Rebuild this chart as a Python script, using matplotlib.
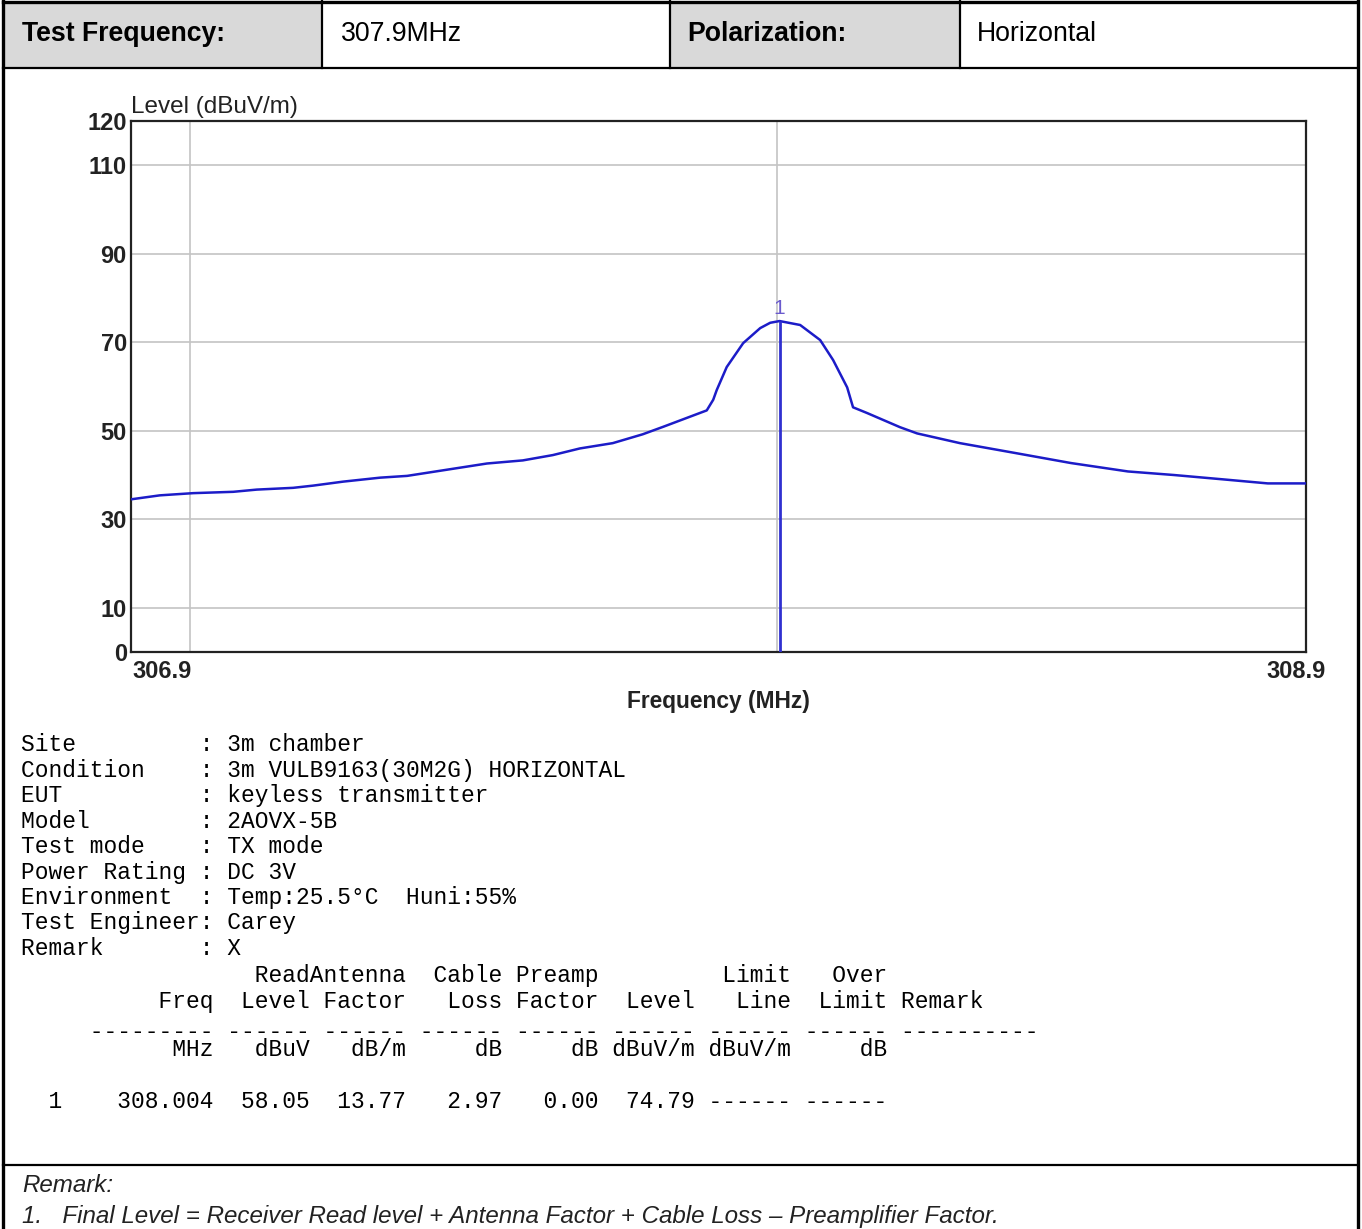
import matplotlib
matplotlib.use("Agg")
import matplotlib.pyplot as plt
from matplotlib.lines import Line2D
from matplotlib.patches import Rectangle

W, H = 1362, 1229

# trace (MHz, dBuV/m)
freq = [306.900, 306.949, 307.006, 307.074, 307.114, 307.176, 307.210, 307.261,
        307.324, 307.370, 307.438, 307.506, 307.567, 307.618, 307.664, 307.720,
        307.771, 307.806, 307.880, 307.891, 307.897, 307.914, 307.942, 307.971,
        307.988, 308.004, 308.039, 308.073, 308.095, 308.119, 308.129, 308.153,
        308.209, 308.238, 308.311, 308.408, 308.500, 308.597, 308.675, 308.760,
        308.835, 308.900]
level = [34.5, 35.4, 35.9, 36.2, 36.7, 37.1, 37.6, 38.5,
         39.4, 39.8, 41.2, 42.6, 43.3, 44.5, 46.0, 47.2,
         49.2, 50.9, 54.6, 57.0, 59.2, 64.4, 69.8, 73.2,
         74.4, 74.79, 73.9, 70.5, 66.0, 59.8, 55.3, 54.0,
         50.8, 49.4, 47.2, 44.9, 42.7, 40.8, 40.0, 39.0,
         38.1, 38.1]

marker_freq = 308.004
marker_level = 74.79

x_range = (306.9, 308.9)
x_grid = [307.0, 308.0]
y_ticks = [0, 10, 30, 50, 70, 90, 110, 120]

header_cells = ["Test Frequency:", "307.9MHz", "Polarization:", "Horizontal"]

info_labels = ["Site", "Condition", "EUT", "Model", "Test mode", "Power Rating",
               "Environment", "Test Engineer", "Remark"]
info_values = ["3m chamber", "3m VULB9163(30M2G) HORIZONTAL", "keyless transmitter",
               "2AOVX-5B", "TX mode", "DC 3V", "Temp:25.5\u00b0C  Huni:55%", "Carey", "X"]

head1 = ["", "Read", "Antenna", "Cable", "Preamp", "", "Limit", "Over"]
head2 = ["Freq", "Level", "Factor", "Loss", "Factor", "Level", "Line", "Limit"]
units = ["MHz", "dBuV", "dB/m", "dB", "dB", "dBuV/m", "dBuV/m", "dB"]
row_no = "1"
row_vals = ["308.004", "58.05", "13.77", "2.97", "0.00", "74.79", "------", "------"]

remark_lines = ["Remark:",
                "1.   Final Level = Receiver Read level + Antenna Factor + Cable Loss \u2013 Preamplifier Factor."]


def fx(x):
    return x / W


def fy(y):
    return 1 - y / H


def table_line(cells, first=""):
    s = first + cells[0].rjust(14 - len(first))
    for c in cells[1:]:
        s += c.rjust(7)
    return s


fig = plt.figure(figsize=(W / 100, H / 100), dpi=100)
fig.patch.set_facecolor("white")

# header row
gray = "#d9d9d9"
for x0, x1 in [(3, 322), (670, 960)]:
    fig.add_artist(Rectangle((fx(x0), fy(68)), fx(x1 - x0), 66 / H,
                             transform=fig.transFigure, facecolor=gray, edgecolor="none"))
cell_x = [22, 341, 687, 977]
for i, (txt, x) in enumerate(zip(header_cells, cell_x)):
    fig.text(fx(x), fy(34), txt, fontsize=19.2, family="Liberation Sans",
             weight="bold" if i % 2 == 0 else "normal", va="center", ha="left")

# frame lines
def hline(y, x0=3, x1=1357, lw=1.6):
    fig.add_artist(Line2D([fx(x0), fx(x1)], [fy(y), fy(y)], color="black", lw=lw,
                          transform=fig.transFigure))


def vline(x, y0=0, y1=H, lw=1.6):
    fig.add_artist(Line2D([fx(x), fx(x)], [fy(y0), fy(y1)], color="black", lw=lw,
                          transform=fig.transFigure))


hline(1.5, lw=2.4)
hline(68)
hline(1165)
vline(2.5, lw=2.4)
vline(1357.5, lw=2.4)
for x in [322, 670, 960]:
    vline(x, 0, 68)

# chart
ax = fig.add_axes([fx(131), fy(652), fx(1306 - 131), (652 - 121) / H])
ax.plot(freq, level, color="#1c1cc8", lw=1.8, zorder=3)
ax.vlines(marker_freq, 0, marker_level, color="#3030d0", lw=2, zorder=3)
ax.annotate(row_no, (marker_freq, marker_level), xytext=(0, 2), textcoords="offset points",
            ha="center", va="bottom", color="#6a5acd", fontsize=15, family="Liberation Sans")

ax.set_xlim(*x_range)
ax.set_ylim(y_ticks[0], y_ticks[-1])
ax.set_yticks(y_ticks)
ax.set_xticks(list(x_range))
ax.set_xticklabels([])
ax.set_xticks(x_grid, minor=True)
ax.grid(True, which="major", axis="y", color="#c4c4c4", lw=1.2)
ax.grid(True, which="minor", axis="x", color="#c4c4c4", lw=1.2)
ax.tick_params(which="both", length=0)
ax.tick_params(axis="y", pad=3, labelsize=17, labelcolor="#222222")
for lab in ax.get_yticklabels():
    lab.set_fontweight("bold")
    lab.set_family("Liberation Sans")
for sp in ax.spines.values():
    sp.set_linewidth(1.6)
    sp.set_color("#222222")

ax.annotate(f"{x_range[0]}", (0, 0), xycoords="axes fraction", xytext=(1, -6),
            textcoords="offset points", ha="left", va="top", fontsize=17,
            weight="bold", color="#222222", family="Liberation Sans")
ax.annotate(f"{x_range[1]}", (1, 0), xycoords="axes fraction", xytext=(14, -6),
            textcoords="offset points", ha="right", va="top", fontsize=17,
            weight="bold", color="#222222", family="Liberation Sans")
ax.annotate("Level (dBuV/m)", (0, 1), xycoords="axes fraction", xytext=(0, 2),
            textcoords="offset points", ha="left", va="bottom", fontsize=17.5,
            color="#222222", family="Liberation Sans")
ax.set_xlabel("Frequency (MHz)", fontsize=16.4, weight="bold", color="#222222",
              family="Liberation Sans", labelpad=24)

# info block
mono = dict(family="Liberation Mono", fontsize=16.5, va="baseline", ha="left", color="black")
x0 = fx(21)
for i, (lab, val) in enumerate(zip(info_labels, info_values)):
    fig.text(x0, fy(751 + i * 25.5), f"{lab:<13}: {val}", **mono)

fig.text(x0, fy(982), table_line(head1), **mono)
fig.text(x0, fy(1008), table_line(head2) + " Remark", **mono)
fig.text(x0, fy(1038), table_line(["-" * 9] + ["------"] * 7) + " " + "-" * 10, **mono)
fig.text(x0, fy(1056), table_line(units), **mono)
fig.text(x0, fy(1108), table_line(row_vals, first="  " + row_no), **mono)

# remark
fig.text(fx(22), fy(1185), remark_lines[0], fontsize=17.4, style="italic",
         family="Liberation Sans", va="center", color="#222222")
fig.text(fx(22), fy(1216), remark_lines[1], fontsize=17.4, style="italic",
         family="Liberation Sans", va="center", color="#222222")

fig.savefig("out.png", dpi=100, facecolor="white")
